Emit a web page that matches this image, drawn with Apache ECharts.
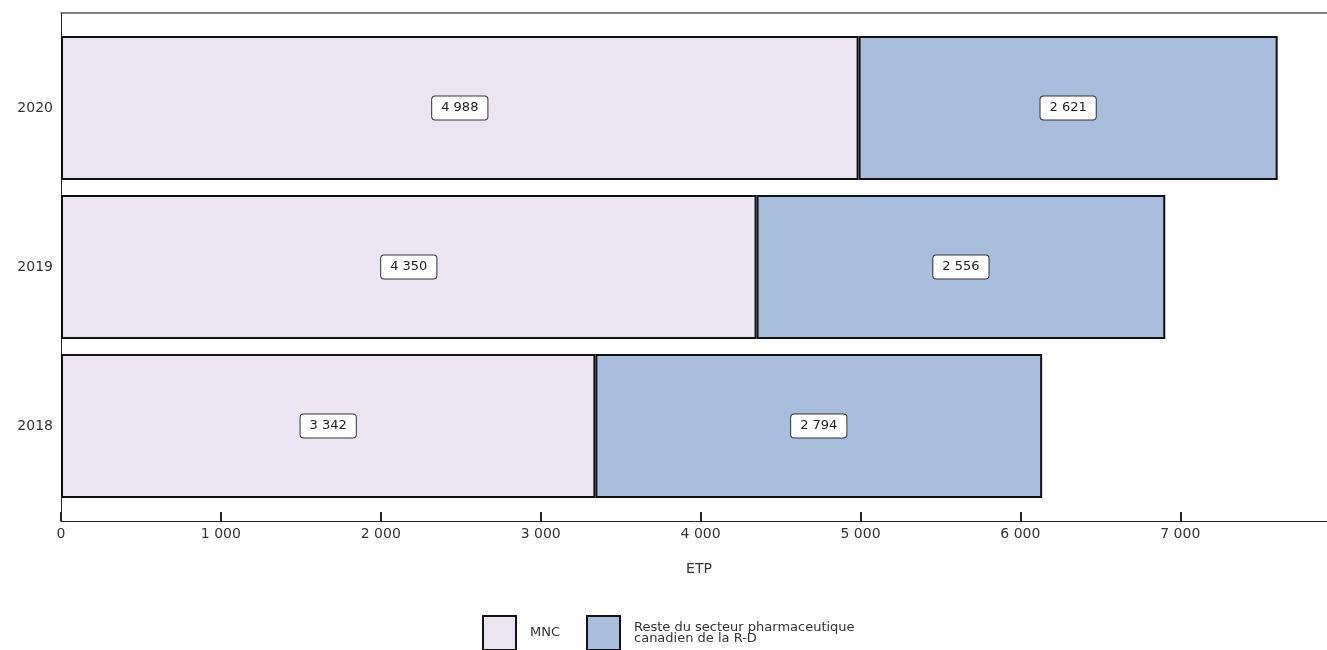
<!DOCTYPE html>
<html>
<head>
<meta charset="utf-8">
<script src="https://cdn.jsdelivr.net/npm/echarts@6/dist/echarts.min.js"></script>
<style>
html,body{margin:0;padding:0;background:#fff;}
#chart{width:1327px;height:650px;}
</style>
</head>
<body>
<div id="chart"></div>
<script>
const years = ['2018', '2019', '2020'];
const mnc = [3342, 4350, 4988];
const reste = [2794, 2556, 2621];
const seriesNames = ['MNC', 'Reste du secteur pharmaceutique canadien de la R-D'];
const axisName = 'ETP';
const xMin = 0, xMax = 7980, xStep = 1000;

const FONT = 'DejaVu Sans';
const fmt = v => String(v).replace(/\B(?=(\d{3})+(?!\d))/g, ' ');

const chart = echarts.init(document.getElementById('chart'), null, {renderer: 'canvas'});

const labelStyle = {
  show: true,
  position: 'inside',
  formatter: p => fmt(p.value),
  backgroundColor: '#fff',
  borderColor: '#333',
  borderWidth: 1,
  borderRadius: 3,
  padding: [5, 9],
  fontFamily: FONT,
  fontSize: 13,
  color: '#222'
};

chart.setOption({
  animation: false,
  textStyle: {fontFamily: FONT},
  grid: [
    {left: 61, right: -10, top: 13, bottom: 129, outerBoundsMode: 'none'},
    {left: 61, right: -10, top: 28.5, bottom: 144.5, outerBoundsMode: 'none'}
  ],
  xAxis: [
    {
      gridIndex: 0, type: 'value', min: xMin, max: xMax, interval: xStep, position: 'bottom',
      axisLine: {show: true, lineStyle: {color: '#222', width: 1}},
      axisTick: {show: true, inside: true, length: 9, lineStyle: {color: '#222', width: 2}},
      axisLabel: {formatter: v => (v % xStep === 0 ? fmt(v) : ''), showMaxLabel: false, margin: 6, fontFamily: FONT, fontSize: 14, color: '#333'},
      splitLine: {show: false},
      name: axisName, nameLocation: 'middle', nameGap: 41,
      nameTextStyle: {fontFamily: FONT, fontSize: 14, color: '#333'}
    },
    {
      gridIndex: 0, type: 'value', min: xMin, max: xMax, position: 'top',
      axisLine: {show: true, onZero: false, lineStyle: {color: '#555', width: 1.5}},
      axisTick: {show: false}, axisLabel: {show: false}, splitLine: {show: false}
    },
    {gridIndex: 1, type: 'value', min: xMin, max: xMax, show: false}
  ],
  yAxis: [
    {
      gridIndex: 0, type: 'value', min: 0, max: 1,
      axisLine: {show: true, onZero: false, lineStyle: {color: '#222', width: 1}},
      axisTick: {show: false}, axisLabel: {show: false}, splitLine: {show: false}
    },
    {
      gridIndex: 1, type: 'category', data: years,
      axisLine: {show: false}, axisTick: {show: false},
      axisLabel: {margin: 8, fontFamily: FONT, fontSize: 14, color: '#333'}
    }
  ],
  legend: {
    left: 482, top: 615, padding: 0,
    itemWidth: 33, itemHeight: 34, itemGap: 26,
    icon: 'rect',
    itemStyle: {borderColor: '#111', borderWidth: 2},
    formatter: name => name === seriesNames[1] ? 'Reste du secteur pharmaceutique\ncanadien de la R-D' : name,
    textStyle: {fontFamily: FONT, fontSize: 13, lineHeight: 11, color: '#333', padding: [0, 0, 0, 9]},
    data: seriesNames
  },
  series: [
    {
      name: seriesNames[0], type: 'bar', stack: 'total', xAxisIndex: 2, yAxisIndex: 1,
      data: mnc, barWidth: 144,
      itemStyle: {color: '#ebe5f2', borderColor: '#111', borderWidth: 2},
      label: labelStyle
    },
    {
      name: seriesNames[1], type: 'bar', stack: 'total', xAxisIndex: 2, yAxisIndex: 1,
      data: reste, barWidth: 144,
      itemStyle: {color: '#a8bedc', borderColor: '#111', borderWidth: 2},
      label: labelStyle
    }
  ]
});
</script>
</body>
</html>
